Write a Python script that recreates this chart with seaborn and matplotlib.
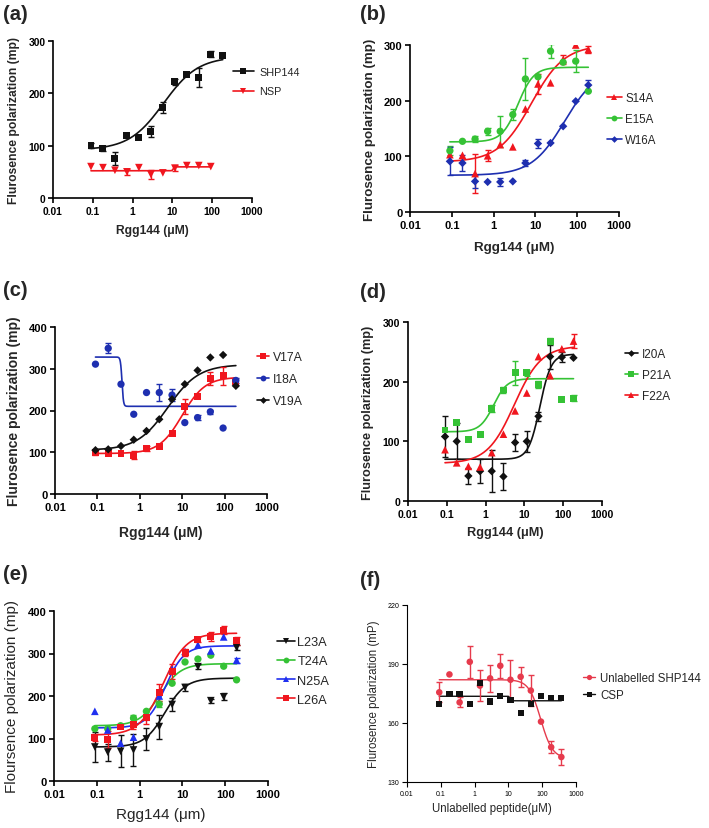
import numpy as np
import pandas as pd
import matplotlib
matplotlib.use("Agg")
import matplotlib.pyplot as plt
import seaborn as sns
from matplotlib.lines import Line2D
from matplotlib.ticker import NullLocator

sns.set_theme(style="ticks")
plt.rcParams['font.family'] = ['Liberation Sans', 'DejaVu Sans']

# ---------------- data ----------------
CONC = [0.09, 0.18, 0.36, 0.72, 1.44, 2.88, 5.76, 11.52, 23.04, 46.08, 92.16, 184.32]
CONC_F = [0.09, 0.18, 0.36, 0.72, 1.44, 2.88, 5.76, 11.52, 23.04, 46.08, 92.16, 184.32, 368.64]
CONC_NSP = [0.09, 0.18, 0.36, 0.72, 1.44, 2.88, 5.76, 11.52, 23.04, 46.08, 92.16]

XTICKS = [0.01, 0.1, 1, 10, 100, 1000]
XTICKLABELS = ["0.01", "0.1", "1", "10", "100", "1000"]

# (a)
a_shp144 = [100, 95, 76, 119, 115, 127, 173, 222, 236, 230, 275, 273]
a_shp144_err = [5, 5, 12, 0, 0, 10, 10, 6, 0, 18, 5, 0]
a_nsp = [60, 58, 53, 50, 58, 45, 48, 57, 62, 62, 60]
a_nsp_err = [0, 0, 0, 6, 0, 9, 0, 6, 0, 0, 0]
# fit params: (value at low conc, value at high conc, EC50, Hill)
a_shp144_fit = (92, 270, 6.0, 1.0)
a_nsp_fit = (52, 59.5, 10.5, 30)

# (b)
b_s14a = [103, 102, 69, 101, 121, 117, 185, 230, 232, 274, 300, 292]
b_s14a_err = [0, 0, 35, 10, 0, 0, 0, 18, 0, 8, 0, 6]
b_e15a = [110, 127, 131, 145, 145, 175, 239, 243, 289, 269, 271, 217]
b_e15a_err = [8, 0, 5, 6, 28, 10, 37, 0, 12, 0, 20, 0]
b_w16a = [91, 88, 55, 54, 54, 55, 88, 123, 124, 154, 199, 228]
b_w16a_err = [25, 15, 12, 0, 7, 0, 5, 8, 0, 0, 0, 10]
b_s14a_fit = (90, 300, 8.0, 1.1)
b_e15a_fit = (126, 260, 3.8, 2.3)
b_w16a_fit = (66, 260, 50, 1.1)

# (c)
c_v17a = [100, 98, 96, 93, 108, 113, 146, 209, 233, 277, 283, 270]
c_v17a_err = [6, 0, 0, 10, 6, 0, 0, 18, 0, 15, 22, 0]
c_i18a = [311, 349, 263, 191, 243, 243, 237, 171, 183, 197, 158, 272]
c_i18a_err = [0, 12, 0, 0, 0, 20, 15, 0, 6, 5, 0, 6]
c_v19a = [105, 107, 115, 130, 151, 179, 227, 263, 296, 327, 333, 259]
c_v19a_err = [0, 0, 0, 0, 0, 0, 0, 0, 0, 0, 0, 0]
c_v17a_fit = (97, 280, 10, 1.6)
c_i18a_fit = (328, 210, 0.38, 25)
c_v19a_fit = (105, 310, 4.6, 1.2)

# (d)
d_i20a = [108, 100, 42, 50, 50, 41, 98, 100, 142, 242, 241, 240]
d_i20a_err = [35, 30, 14, 20, 35, 22, 15, 18, 8, 20, 8, 0]
d_p21a = [119, 131, 103, 112, 155, 186, 215, 215, 195, 268, 170, 172]
d_p21a_err = [0, 0, 0, 0, 6, 5, 20, 5, 6, 5, 0, 5]
d_f22a = [86, 64, 58, 57, 81, 112, 151, 181, 242, 210, 255, 268]
d_f22a_err = [0, 0, 0, 0, 0, 0, 0, 0, 0, 0, 0, 12]
d_i20a_fit = (70, 246, 25, 3.0)
d_p21a_fit = (116, 205, 1.6, 2.5)
d_f22a_fit = (63, 260, 5.5, 1.25)

# (e)
e_l23a = [80, 68, 70, 73, 99, 128, 180, 220, 269, 189, 198, 314]
e_l23a_err = [35, 20, 38, 37, 25, 28, 15, 8, 6, 5, 8, 6]
e_t24a = [123, 123, 130, 148, 164, 181, 230, 280, 287, 296, 270, 238]
e_t24a_err = [0, 0, 0, 8, 0, 8, 0, 0, 0, 0, 0, 0]
e_n25a = [164, 120, 89, 103, 150, 200, 263, 305, 320, 306, 339, 284]
e_n25a_err = [0, 0, 0, 0, 0, 0, 0, 0, 0, 0, 0, 6]
e_l26a = [103, 98, 127, 134, 150, 209, 257, 302, 332, 340, 355, 330]
e_l26a_err = [8, 20, 0, 12, 15, 20, 18, 8, 6, 10, 10, 10]
e_l23a_fit = (80, 242, 3.9, 1.8)
e_t24a_fit = (130, 276, 3.0, 1.8)
e_n25a_fit = (125, 318, 4.0, 2.0)
e_l26a_fit = (108, 348, 3.5, 1.6)

# (f)
f_shp144 = [175.6, 184.7, 170.5, 191.1, 179.0, 182.7, 189.1, 182.0, 183.5, 176.5, 160.7, 147.7, 142.7]
f_shp144_err = [5, 0, 2.5, 8, 8, 7, 6, 10, 5, 8, 0, 3, 4]
f_csp = [169.7, 174.8, 174.8, 169.7, 180.2, 170.9, 173.9, 171.7, 165.0, 169.7, 173.9, 172.7, 172.7]
f_csp_err = [0] * 13
f_shp144_fit = (182, 142, 90, 2.5)
f_csp_fit = (173.6, 171.3, 11, 40)

RED = "#f0161e"
GREEN = "#35c235"
BLUE = "#1e2fb0"
BLUE_E = "#2030f0"
RED_F = "#e63a4c"
BLACK = "#111111"

W, H = 709, 829
fig = plt.figure(figsize=(W / 100, H / 100), dpi=100)

MARKER_SCALE = {"s": 1.0, "o": 1.05, "^": 1.1, "v": 1.1, "D": 0.85}


def add_ax(left, right, top, bottom):
    return fig.add_axes([left / W, 1 - bottom / H, (right - left) / W, (bottom - top) / H])


def fourpl(x, low, high, ec50, hill):
    return low + (high - low) / (1 + (ec50 / x) ** hill)


def panel(ax, series, ylim, yticks, xlabel, ylabel, tick_fs, lab_fs, lab_weight,
          tick_weight, xlab_y, ylab_x, leg_xy, leg_fs, leg_kw, ms=5, lw=1.2,
          spine_lw=1.2, xmax=1000):
    pts = []
    curves = []
    for (name, xs, ys, errs, color, marker, fit) in series:
        for xv, yv in zip(xs, ys):
            pts.append({"x": xv, "y": yv, "s": name})
        xc = np.geomspace(min(xs), max(xs), 300)
        for xv, yv in zip(xc, fourpl(xc, *fit)):
            curves.append({"x": xv, "y": yv, "s": name})
    pts = pd.DataFrame(pts)
    curves = pd.DataFrame(curves)
    pal = {s[0]: s[4] for s in series}
    mk = {s[0]: s[5] for s in series}
    sz = {s[0]: (ms * MARKER_SCALE[s[5]]) ** 2 for s in series}
    sns.lineplot(data=curves, x="x", y="y", hue="s", palette=pal, ax=ax,
                 linewidth=lw, legend=False, estimator=None, sort=False)
    for (name, xs, ys, errs, color, marker, fit) in series:
        xe = [x for x, e in zip(xs, errs) if e > 0]
        ye = [y for y, e in zip(ys, errs) if e > 0]
        ee = [e for e in errs if e > 0]
        if xe:
            ax.errorbar(xe, ye, yerr=ee, fmt="none", ecolor=color, elinewidth=1.0,
                        capsize=2.5, capthick=1.0, zorder=3)
    sns.scatterplot(data=pts, x="x", y="y", hue="s", style="s", size="s",
                    palette=pal, markers=mk, sizes=sz, ax=ax, linewidth=0,
                    legend=False, zorder=4)
    ax.set_xscale("log")
    ax.set_xlim(0.01, xmax)
    ax.set_ylim(*ylim)
    ax.set_xticks(XTICKS)
    ax.set_xticklabels(XTICKLABELS)
    ax.xaxis.set_minor_locator(NullLocator())
    ax.set_yticks(yticks)
    ax.set_yticklabels([str(t) for t in yticks])
    for lab in ax.get_xticklabels() + ax.get_yticklabels():
        lab.set_fontsize(tick_fs)
        lab.set_fontweight(tick_weight)
    ax.tick_params(direction="out", length=3.5, width=spine_lw, pad=2, colors="black")
    for sp in ["top", "right"]:
        ax.spines[sp].set_visible(False)
    for sp in ["left", "bottom"]:
        ax.spines[sp].set_linewidth(spine_lw)
        ax.spines[sp].set_color("black")
    ax.set_xlabel(xlabel, fontsize=lab_fs, fontweight=lab_weight)
    ax.set_ylabel(ylabel, fontsize=lab_fs, fontweight=lab_weight)
    ax.xaxis.set_label_coords(0.5, xlab_y)
    ax.yaxis.set_label_coords(ylab_x, 0.5)
    handles = [Line2D([0], [0], color=s[4], marker=s[5],
                      markersize=ms * 0.8 * MARKER_SCALE[s[5]],
                      linewidth=lw, markeredgewidth=0) for s in series]
    labels = [s[0] for s in series]
    fig.legend(handles, labels, loc="center left",
               bbox_to_anchor=(leg_xy[0] / W, 1 - leg_xy[1] / H),
               frameon=False, fontsize=leg_fs, borderpad=0, borderaxespad=0,
               **leg_kw)


YL = "Flurosence polarization (mp)"
XL = "Rgg144 (\u03bcM)"

# (a)
ax = add_ax(53, 252, 42, 199)
panel(ax, [("SHP144", CONC, a_shp144, a_shp144_err, BLACK, "s", a_shp144_fit),
           ("NSP", CONC_NSP, a_nsp, a_nsp_err, RED, "v", a_nsp_fit)],
      (0, 300), [0, 100, 200, 300], XL, YL, 7.4, 8.7, "bold", "bold",
      -0.166, -0.166, (233, 82.5), 7.8,
      dict(handlelength=1.9, handletextpad=0.5, labelspacing=0.9))

# (b)
ax = add_ax(410, 619, 46, 213)
panel(ax, [("S14A", CONC, b_s14a, b_s14a_err, RED, "^", b_s14a_fit),
           ("E15A", CONC, b_e15a, b_e15a_err, GREEN, "o", b_e15a_fit),
           ("W16A", CONC, b_w16a, b_w16a_err, BLUE, "D", b_w16a_fit)],
      (0, 300), [0, 100, 200, 300], XL, YL, 8, 9.6, "bold", "bold",
      -0.174, -0.163, (607, 120), 8.3,
      dict(handlelength=1.3, handletextpad=0.3, labelspacing=0.75))

# (c)
ax = add_ax(55, 267, 328, 495)
panel(ax, [("V17A", CONC, c_v17a, c_v17a_err, RED, "s", c_v17a_fit),
           ("I18A", CONC, c_i18a, c_i18a_err, BLUE, "o", c_i18a_fit),
           ("V19A", CONC, c_v19a, c_v19a_err, BLACK, "D", c_v19a_fit)],
      (0, 400), [0, 100, 200, 300, 400], XL, YL, 8, 10, "bold", "bold",
      -0.186, -0.16, (257, 380), 8.8,
      dict(handlelength=1.0, handletextpad=0.3, labelspacing=0.8))

# (d)
ax = add_ax(408, 602, 323, 502)
panel(ax, [("I20A", CONC, d_i20a, d_i20a_err, BLACK, "D", d_i20a_fit),
           ("P21A", CONC, d_p21a, d_p21a_err, GREEN, "s", d_p21a_fit),
           ("F22A", CONC, d_f22a, d_f22a_err, RED, "^", d_f22a_fit)],
      (0, 300), [0, 100, 200, 300], XL, YL, 7.6, 9.2, "bold", "bold",
      -0.14, -0.175, (625, 376), 8.5,
      dict(handlelength=1.1, handletextpad=0.35, labelspacing=0.75))

# (e)
ax = add_ax(54, 268, 612, 782)
panel(ax, [("L23A", CONC, e_l23a, e_l23a_err, BLACK, "v", e_l23a_fit),
           ("T24A", CONC, e_t24a, e_t24a_err, GREEN, "o", e_t24a_fit),
           ("N25A", CONC, e_n25a, e_n25a_err, BLUE_E, "^", e_n25a_fit),
           ("L26A", CONC, e_l26a, e_l26a_err, RED, "s", e_l26a_fit)],
      (0, 400), [0, 100, 200, 300, 400], "Rgg144 (\u03bcm)", "Floursence polarization (mp)",
      8, 11, "normal", "bold",
      -0.153, -0.164, (277, 672), 9.2,
      dict(handlelength=1.4, handletextpad=0.2, labelspacing=0.55))

# (f)
ax = add_ax(407, 576, 606, 783)
panel(ax, [("Unlabelled SHP144", CONC_F, f_shp144, f_shp144_err, RED_F, "o", f_shp144_fit),
           ("CSP", CONC_F, f_csp, f_csp_err, BLACK, "s", f_csp_fit)],
      (130, 220), [130, 160, 190, 220], "Unlabelled peptide(\u03bcM)",
      "Flurosence polarization (mP)", 5, 8.3, "normal", "normal",
      -0.113, -0.16, (583, 687.5), 8.3,
      dict(handlelength=1.0, handletextpad=0.5, labelspacing=0.45),
      ms=4.5, lw=1.0, spine_lw=0.8)
for lab in ax.get_xticklabels() + ax.get_yticklabels():
    lab.set_fontsize(5)

# panel letters
for txt, x, y in [("(a)", 3, 14), ("(b)", 360, 15), ("(c)", 3, 291),
                  ("(d)", 360, 293), ("(e)", 3, 575), ("(f)", 360, 581)]:
    fig.text(x / W, 1 - y / H, txt, fontsize=14.5, fontweight="bold",
             ha="left", va="center")

fig.savefig("out.png", dpi=100)
